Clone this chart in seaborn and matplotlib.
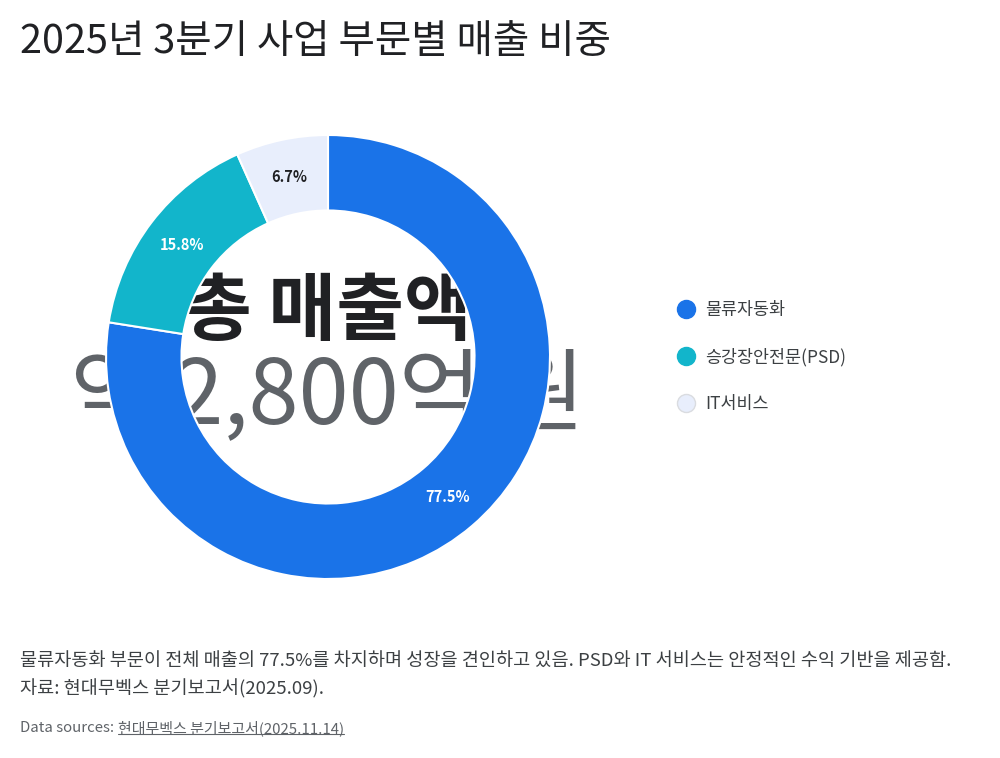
import matplotlib
matplotlib.use("Agg")
import matplotlib.pyplot as plt
import seaborn as sns
from matplotlib.lines import Line2D

sns.set_theme(style="white")
plt.rcParams["font.family"] = ["Noto Sans CJK KR", "DejaVu Sans"]

# ---- data ----
segments = ["물류자동화", "승강장안전문(PSD)", "IT서비스"]
shares = [77.5, 15.8, 6.7]
colors = ["#1a73e8", "#12b5cb", "#e8eefc"]
label_colors = ["white", "white", "#202124"]

title = "2025년 3분기 사업 부문별 매출 비중"
center_top = "총 매출액"
center_bottom = "약 2,800억 원"
note1 = "물류자동화 부문이 전체 매출의 77.5%를 차지하며 성장을 견인하고 있음. PSD와 IT 서비스는 안정적인 수익 기반을 제공함."
note2 = "자료: 현대무벡스 분기보고서(2025.09)."
src_prefix = "Data sources: "
src_link = "현대무벡스 분기보고서(2025.11.14)"

W, H = 1000, 758
fig = plt.figure(figsize=(W / 100, H / 100), dpi=100)
fig.patch.set_facecolor("white")

# donut axes: centre (328, 357), radius 222 px
cx, cy, R = 328, 357, 222
ax = fig.add_axes([(cx - R) / W, (H - cy - R) / H, 2 * R / W, 2 * R / H])

wedges, texts, autotexts = ax.pie(
    shares, colors=colors, startangle=90, counterclock=False,
    autopct="%.1f%%", pctdistance=0.83,
    wedgeprops={"width": 0.34, "edgecolor": "white", "linewidth": 1.5},
    radius=1,
)
for t, c in zip(autotexts, label_colors):
    t.set_color(c)
    t.set_fontsize(10.5)
    t.set_fontweight("bold")
ax.set_xlim(-1, 1)
ax.set_ylim(-1, 1)
ax.set_aspect("equal")
ax.axis("off")

# centre text sits below the ring
ax.text(0, 0.2, center_top, ha="center", va="center", fontsize=53,
        fontweight="bold", color="#202124", zorder=0.5)
ax.text(0, -0.185, center_bottom, ha="center", va="center", fontsize=65,
        color="#5f6368", zorder=0.5)

# legend
handles = [Line2D([], [], marker="o", linestyle="none", markersize=13,
                  markerfacecolor=c, markeredgecolor=("#dadce0" if i == 2 else c),
                  markeredgewidth=1)
           for i, c in enumerate(colors)]
fig.legend(handles, segments, loc="center left",
           bbox_to_anchor=(660 / W, 1 - 357 / H), frameon=False,
           fontsize=12.5, labelcolor="#3c4043", handletextpad=0.5,
           labelspacing=1.65, handlelength=1.2)

# title and notes
fig.text(20 / W, 1 - 42 / H, title, ha="left", va="center",
         fontsize=28.5, color="#202124")
fig.text(20 / W, 1 - 661 / H, note1, ha="left", va="center",
         fontsize=13.4, color="#3c4043")
fig.text(20 / W, 1 - 689 / H, note2, ha="left", va="center",
         fontsize=13.4, color="#3c4043")

t1 = fig.text(20 / W, 1 - 728 / H, src_prefix, ha="left", va="center",
              fontsize=10.8, color="#5f6368")
fig.canvas.draw()
r = fig.canvas.get_renderer()
bb = t1.get_window_extent(r)
t2 = fig.text(bb.x1 / W, 1 - 728 / H, src_link, ha="left", va="center",
              fontsize=10.8, color="#5f6368")
fig.canvas.draw()
bb2 = t2.get_window_extent(r)
uy = (bb2.y0 + 2) / H
fig.add_artist(Line2D([bb2.x0 / W, bb2.x1 / W], [uy, uy], color="#5f6368",
                      linewidth=0.8))

fig.savefig("out.png", dpi=100, facecolor="white")
